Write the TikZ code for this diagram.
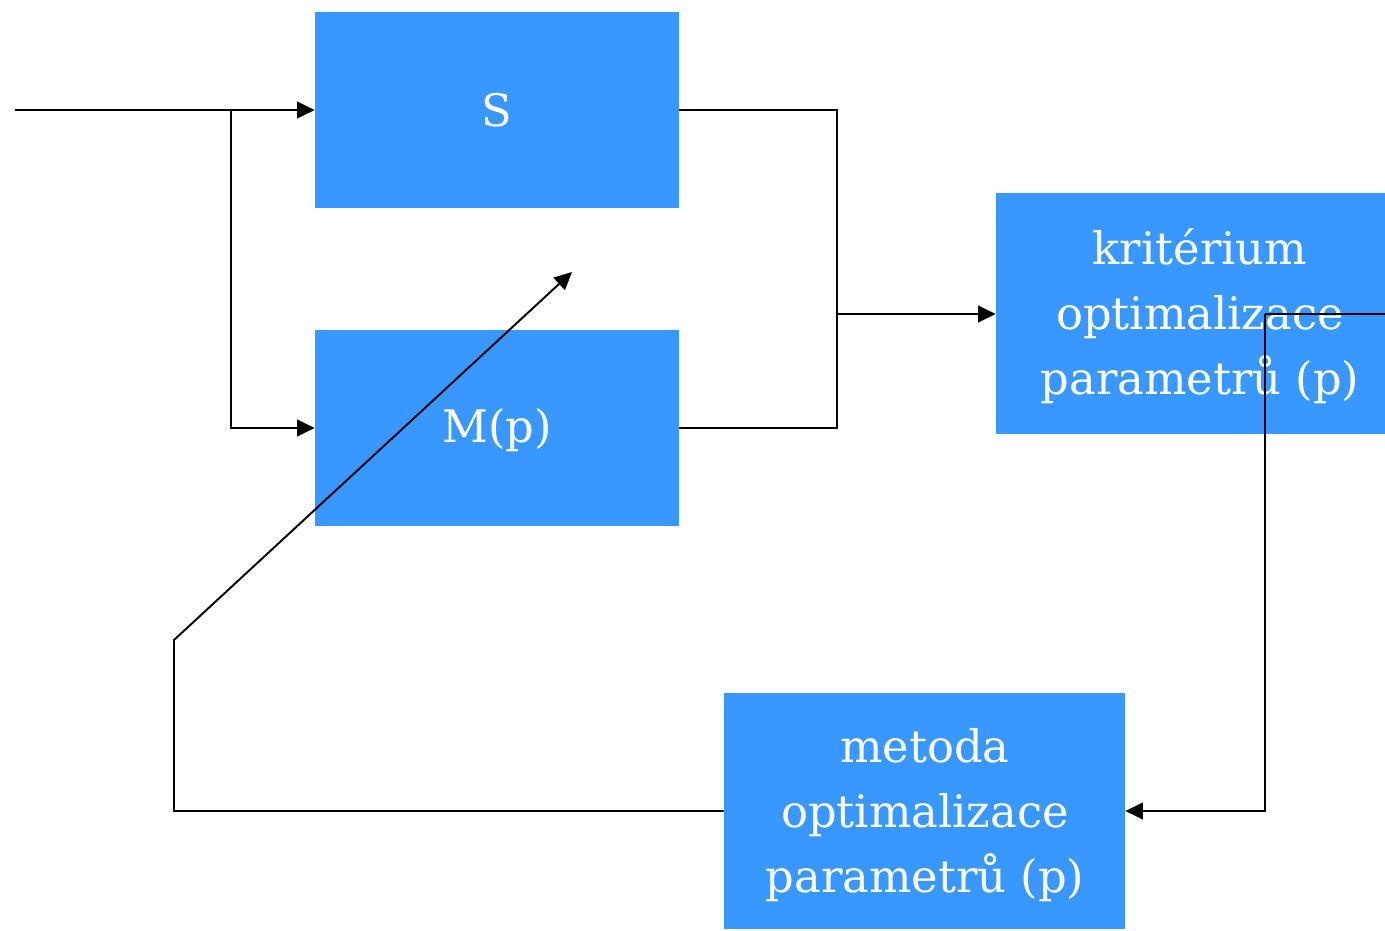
\documentclass[tikz,border=0pt]{standalone}
\usepackage{fontspec}
\setmainfont{DejaVu Serif}
\usetikzlibrary{arrows.meta}
\definecolor{boxblue}{RGB}{56,152,255}
\tikzset{
  blockbox/.style={fill=boxblue, draw=none, inner sep=0pt},
  blocktext/.style={text=white, align=center, inner sep=0pt,
    font=\fontsize{25.5}{37}\selectfont},
  wire/.style={draw=black, line width=1.1pt},
  tip/.style={-{Triangle[length=10pt,width=9.5pt]}}
}
\begin{document}
\begin{tikzpicture}[x=0.02cm, y=-0.02cm]
  \useasboundingbox (0,0) rectangle (1385,930);
  % blocks
  \node[blockbox, minimum width=364*0.02cm, minimum height=196*0.02cm] (S) at (497,110) {};
  \node[blockbox, minimum width=364*0.02cm, minimum height=196*0.02cm] (M) at (497,428) {};
  \node[blockbox, minimum width=389*0.02cm, minimum height=241*0.02cm] (K) at (1190.5,313.5) {};
  \node[blockbox, minimum width=401*0.02cm, minimum height=236*0.02cm] (O) at (924.5,811) {};
  % block labels
  \node[blocktext] (Stext) at (497,110) {S};
  \node[blocktext] (Mtext) at (497,430) {M(p)};
  \node[blocktext] (Ktext) at (1200,316) {kritérium\\optimalizace\\parametrů (p)};
  \node[blocktext] (Otext) at (925,815) {metoda\\optimalizace\\parametrů (p)};
  % helper points of the wiring
  \coordinate (in) at (15,110);
  \coordinate (split) at (231,110);
  \coordinate (join) at (837,314);
  \coordinate (turn) at (1265,314);
  \coordinate (bend) at (174,640);
  \coordinate (ptip) at (572,272);
  % input to both S and M(p)
  \draw[wire, tip] (in) -- (S.west);
  \draw[wire, tip] (split) |- (M.west);
  % outputs of S and M(p) merge into the criterion
  \draw[wire] (S.east) -| (join);
  \draw[wire] (M.east) -| (join);
  \draw[wire, tip] (join) -- (join -| K.west);
  % criterion to optimisation method
  \draw[wire] (turn -| K.east) -- (turn);
  \draw[wire, tip] (turn) |- (O.east);
  % feedback: parameter adjustment of M(p)
  \draw[wire, tip] (O.west) -| (bend) -- (ptip);
\end{tikzpicture}
\end{document}
